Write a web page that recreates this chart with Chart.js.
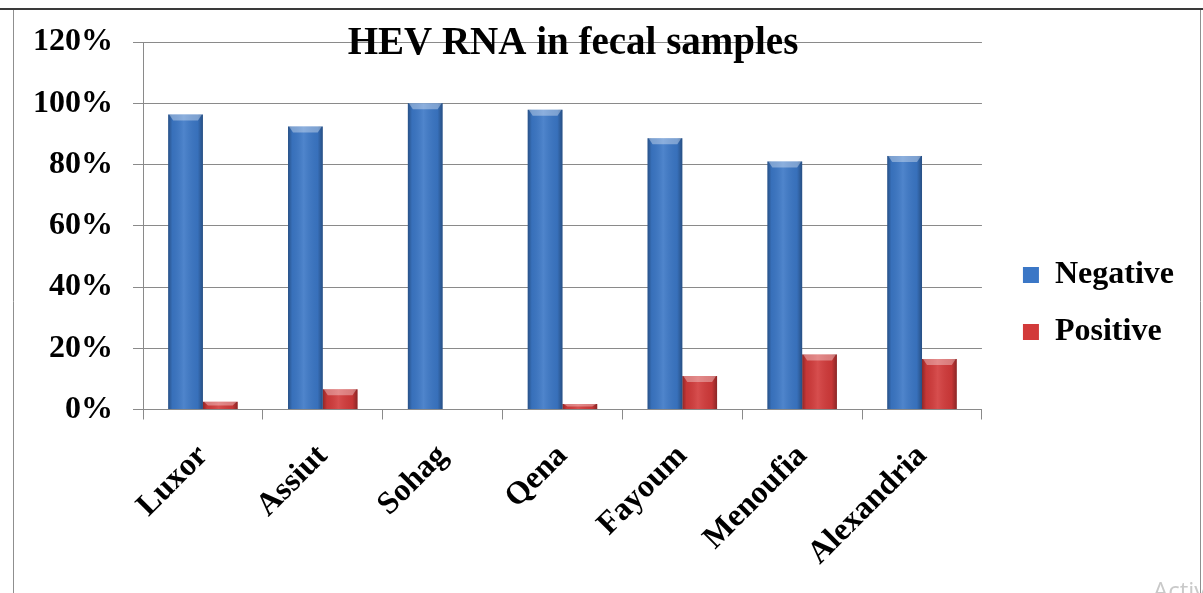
<!DOCTYPE html>
<html>
<head>
<meta charset="utf-8">
<script src="https://cdn.jsdelivr.net/npm/chart.js@4/dist/chart.umd.min.js"></script>
<style>
  html, body { margin: 0; padding: 0; background: #ffffff; }
  #wrap { width: 1203px; height: 593px; position: relative; }
</style>
</head>
<body>
<div id="wrap"><canvas id="c" width="1203" height="593"></canvas></div>
<script>
// Governorates sampled
const categories = ['Luxor', 'Assiut', 'Sohag', 'Qena', 'Fayoum', 'Menoufia', 'Alexandria'];
// Share of fecal samples per result (%)
const negativeValues = [96.3, 92.4, 100, 97.9, 88.6, 81.0, 82.8];
const positiveValues = [2.5, 6.6, 0, 1.8, 10.9, 18.0, 16.5];
// Value axis
const yTicks = [0, 20, 40, 60, 80, 100, 120];
const chartTitle = 'HEV RNA in fecal samples';

const SERIF = '"Liberation Serif", "Times New Roman", serif';
const BLUE = '#3b77c6';
const RED = '#d23a3a';
const GRID = '#8a8a8a';

// Soft cylinder-like shading and a bevelled top on every bar
const barShading = {
  id: 'barShading',
  afterDatasetsDraw(chart) {
    const ctx = chart.ctx;
    chart.data.datasets.forEach((ds, di) => {
      const meta = chart.getDatasetMeta(di);
      meta.data.forEach(bar => {
        const left = bar.x - bar.width / 2;
        const right = bar.x + bar.width / 2;
        const top = Math.min(bar.y, bar.base);
        const h = Math.abs(bar.base - bar.y);
        if (h < 0.5) return;
        ctx.save();
        const g = ctx.createLinearGradient(left, 0, right, 0);
        g.addColorStop(0, 'rgba(0,0,0,0.32)');
        g.addColorStop(0.12, 'rgba(0,0,0,0.06)');
        g.addColorStop(0.45, 'rgba(255,255,255,0.10)');
        g.addColorStop(0.85, 'rgba(0,0,0,0.06)');
        g.addColorStop(1, 'rgba(0,0,0,0.34)');
        ctx.fillStyle = g;
        ctx.fillRect(left, top, right - left, h);
        const bev = Math.min(6, h / 2);
        ctx.beginPath();
        ctx.moveTo(left + 1, top);
        ctx.lineTo(right - 1, top);
        ctx.lineTo(right - 5, top + bev);
        ctx.lineTo(left + 5, top + bev);
        ctx.closePath();
        ctx.fillStyle = 'rgba(255,255,255,0.35)';
        ctx.fill();
        ctx.restore();
      });
    });
  }
};

// Title laid over the top gridline, outer frame lines and the corner watermark
const decorations = {
  id: 'decorations',
  afterDraw(chart) {
    const ctx = chart.ctx;
    ctx.save();
    ctx.fillStyle = '#000';
    ctx.font = 'bold 39px ' + SERIF;
    ctx.textAlign = 'center';
    ctx.textBaseline = 'alphabetic';
    ctx.fillText(chartTitle, 573, 54);

    ctx.strokeStyle = '#3a3a3a';
    ctx.lineWidth = 2;
    ctx.beginPath();
    ctx.moveTo(0, 9);
    ctx.lineTo(1203, 9);
    ctx.stroke();

    ctx.strokeStyle = '#8f8f8f';
    ctx.lineWidth = 1;
    ctx.beginPath();
    ctx.moveTo(13.5, 10);
    ctx.lineTo(13.5, 593);
    ctx.moveTo(1200.5, 10);
    ctx.lineTo(1200.5, 593);
    ctx.stroke();

    ctx.fillStyle = '#c9c9c9';
    ctx.font = '24px "Open Sans", sans-serif';
    ctx.textAlign = 'left';
    ctx.fillText('Activate Windows', 1153, 599);
    ctx.restore();
  }
};

new Chart(document.getElementById('c'), {
  type: 'bar',
  data: {
    labels: categories,
    datasets: [
      { label: 'Negative', data: negativeValues, backgroundColor: BLUE, borderWidth: 0,
        categoryPercentage: 0.58, barPercentage: 1.0 },
      { label: 'Positive', data: positiveValues, backgroundColor: RED, borderWidth: 0,
        categoryPercentage: 0.58, barPercentage: 1.0 }
    ]
  },
  options: {
    responsive: false,
    animation: false,
    layout: { padding: { top: 42, right: 19, bottom: 28, left: 0 } },
    plugins: {
      title: { display: false },
      tooltip: { enabled: false },
      legend: {
        position: 'right',
        align: 'center',
        labels: {
          color: '#000',
          font: { family: SERIF, size: 32, weight: 'bold' },
          boxWidth: 16,
          boxHeight: 16,
          padding: 25
        }
      }
    },
    scales: {
      x: {
        afterFit(scale) { scale.height = 155.5; },
        grid: { display: true, drawOnChartArea: false, drawTicks: true, tickLength: 10, color: GRID, offset: true },
        border: { display: true, color: GRID, width: 1 },
        ticks: {
          color: '#000',
          font: { family: SERIF, size: 32, weight: 'bold' },
          minRotation: 45,
          maxRotation: 45,
          padding: 18,
          autoSkip: false
        }
      },
      y: {
        min: 0,
        max: 120,
        afterFit(scale) { scale.width = 143; },
        afterBuildTicks(scale) { scale.ticks = yTicks.map(v => ({ value: v })); },
        grid: { color: GRID, lineWidth: 1, tickLength: 10, drawTicks: true },
        border: { display: true, color: GRID, width: 1 },
        ticks: {
          color: '#000',
          font: { family: SERIF, size: 32, weight: 'bold' },
          padding: 20,
          callback: v => v + '%'
        }
      },
      // empty spacer between the plot and the legend
      gap: {
        type: 'linear',
        position: 'right',
        display: true,
        afterFit(scale) { scale.width = 16; },
        grid: { display: false },
        border: { display: false },
        ticks: { display: false }
      }
    }
  },
  plugins: [barShading, decorations]
});
</script>
</body>
</html>
